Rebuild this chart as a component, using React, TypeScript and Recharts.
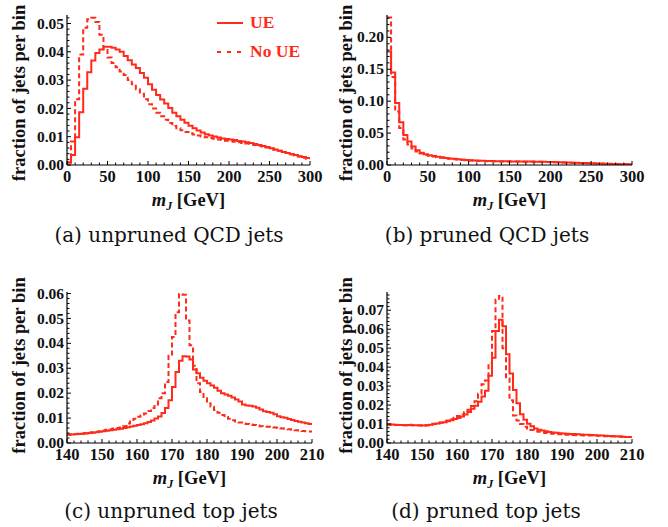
import React from "react";
import { LineChart, Line, XAxis, YAxis, Legend } from "recharts";

const RED = "#ff2a1a";
const SERIF = "'Liberation Serif', 'Times New Roman', serif";

// bin edges (lower edges plus the final upper edge)
const qcdEdges = [
  0, 5, 10, 15, 20, 25, 30, 35, 40, 45, 50, 55, 60, 65, 70, 75, 80, 85, 90, 95,
  100, 105, 110, 115, 120, 125, 130, 135, 140, 145, 150, 155, 160, 165, 170, 175, 180, 185, 190, 195,
  200, 205, 210, 215, 220, 225, 230, 235, 240, 245, 250, 255, 260, 265, 270, 275, 280, 285, 290, 295,
  300,
];
const topEdges = [
  140, 141, 142, 143, 144, 145, 146, 147, 148, 149, 150, 151, 152, 153, 154, 155, 156, 157, 158, 159,
  160, 161, 162, 163, 164, 165, 166, 167, 168, 169, 170, 171, 172, 173, 174, 175, 176, 177, 178, 179,
  180, 181, 182, 183, 184, 185, 186, 187, 188, 189, 190, 191, 192, 193, 194, 195, 196, 197, 198, 199,
  200, 201, 202, 203, 204, 205, 206, 207, 208, 209, 210,
];

// (a) unpruned QCD jets
const qcdUnprunedUE = [
  0.0008, 0.0035, 0.0098, 0.0186, 0.0269, 0.0328, 0.0369, 0.0396, 0.0408, 0.0418,
  0.0418, 0.0414, 0.0408, 0.04, 0.0385, 0.037, 0.0355, 0.0343, 0.0325, 0.0308,
  0.0285, 0.0266, 0.0247, 0.0231, 0.0217, 0.0201, 0.0185, 0.0172, 0.016, 0.0149,
  0.0139, 0.013, 0.0122, 0.0115, 0.0109, 0.0104, 0.0101, 0.0097, 0.0094, 0.0092,
  0.009, 0.0088, 0.0085, 0.0083, 0.008, 0.0078, 0.0074, 0.0071, 0.0067, 0.0064,
  0.0059, 0.0055, 0.005, 0.0046, 0.0042, 0.0038, 0.0035, 0.0031, 0.0028, 0.0025,
];
const qcdUnprunedNoUE = [
  0.001, 0.0083, 0.0232, 0.039, 0.0485, 0.0515, 0.052, 0.0505, 0.046, 0.041,
  0.038, 0.036, 0.0345, 0.033, 0.0318, 0.03, 0.0285, 0.0268, 0.0252, 0.0232,
  0.0215, 0.02, 0.0185, 0.0172, 0.016, 0.0148, 0.0138, 0.013, 0.0123, 0.0117,
  0.0112, 0.0108, 0.0104, 0.0101, 0.0098, 0.0095, 0.0093, 0.009, 0.0088, 0.0086,
  0.0084, 0.0082, 0.008, 0.0078, 0.0076, 0.0074, 0.0071, 0.0068, 0.0065, 0.0062,
  0.0058, 0.0054, 0.005, 0.0046, 0.0042, 0.0038, 0.0034, 0.003, 0.0026, 0.0022,
];

// (b) pruned QCD jets
const qcdPrunedUE = [
  0.178, 0.145, 0.097, 0.067, 0.047, 0.037, 0.029, 0.023, 0.019, 0.0168,
  0.0152, 0.014, 0.013, 0.012, 0.0111, 0.0103, 0.0096, 0.009, 0.0084, 0.0079,
  0.0075, 0.0071, 0.0068, 0.0065, 0.0063, 0.0061, 0.006, 0.0059, 0.0058, 0.0057,
  0.0056, 0.0056, 0.0055, 0.0055, 0.0054, 0.0053, 0.0052, 0.0051, 0.005, 0.0048,
  0.0046, 0.0044, 0.0042, 0.004, 0.0038, 0.0036, 0.0034, 0.0032, 0.003, 0.0028,
  0.0026, 0.0024, 0.0022, 0.002, 0.0018, 0.0016, 0.0015, 0.0013, 0.0012, 0.0011,
];
const qcdPrunedNoUE = [
  0.231, 0.138, 0.084, 0.058, 0.04, 0.032, 0.026, 0.021, 0.018, 0.0158,
  0.0143, 0.0132, 0.0122, 0.0113, 0.0105, 0.0098, 0.0092, 0.0086, 0.0081, 0.0076,
  0.0072, 0.0068, 0.0065, 0.0062, 0.006, 0.0058, 0.0057, 0.0056, 0.0055, 0.0054,
  0.0054, 0.0053, 0.0053, 0.0052, 0.0052, 0.0051, 0.005, 0.0049, 0.0048, 0.0046,
  0.0044, 0.0042, 0.004, 0.0038, 0.0036, 0.0034, 0.0032, 0.003, 0.0028, 0.0026,
  0.0024, 0.0022, 0.002, 0.0018, 0.0016, 0.0015, 0.0013, 0.0012, 0.0011, 0.001,
];

// (c) unpruned top jets
const topUnprunedUE = [
  0.0033, 0.0034, 0.0035, 0.0036, 0.0037, 0.0038, 0.004, 0.0041, 0.0043, 0.0045,
  0.0047, 0.0049, 0.0051, 0.0053, 0.0055, 0.0057, 0.006, 0.0063, 0.0066, 0.0069,
  0.0072, 0.0075, 0.0079, 0.0084, 0.009, 0.0098, 0.0106, 0.012, 0.014, 0.0172,
  0.0225, 0.0285, 0.033, 0.0348, 0.0347, 0.0335, 0.0295, 0.028, 0.0262, 0.025,
  0.024, 0.0231, 0.0222, 0.021, 0.02, 0.0195, 0.019, 0.0183, 0.0175, 0.0167,
  0.0155, 0.0151, 0.0149, 0.0146, 0.0141, 0.0134, 0.0127, 0.0124, 0.0121, 0.0115,
  0.0107, 0.0103, 0.0101, 0.0096, 0.0092, 0.0088, 0.0085, 0.0082, 0.0079, 0.0076,
];
const topUnprunedNoUE = [
  0.0034, 0.0035, 0.0036, 0.0037, 0.0038, 0.004, 0.0042, 0.0043, 0.0045, 0.0047,
  0.005, 0.0053, 0.0055, 0.0058, 0.006, 0.0062, 0.0067, 0.0078, 0.0086, 0.0097,
  0.0105, 0.011, 0.0118, 0.0128, 0.014, 0.0155, 0.018, 0.02, 0.0245, 0.035,
  0.0425, 0.0525, 0.0598, 0.0595, 0.0492, 0.0392, 0.031, 0.024, 0.0205, 0.018,
  0.016, 0.0145, 0.0132, 0.0121, 0.0112, 0.0104, 0.0097, 0.0091, 0.0086, 0.0082,
  0.0078, 0.0076, 0.0074, 0.0072, 0.007, 0.0067, 0.0066, 0.0065, 0.0064, 0.0062,
  0.006, 0.0058, 0.0057, 0.0055, 0.0053, 0.0051, 0.005, 0.0048, 0.0047, 0.0046,
];

// (d) pruned top jets
const topPrunedUE = [
  0.0098, 0.0097, 0.0096, 0.0095, 0.0095, 0.0094, 0.0095, 0.0094, 0.0093, 0.0093,
  0.0092, 0.0093, 0.0096, 0.01, 0.0103, 0.0107, 0.011, 0.0115, 0.012, 0.0126,
  0.0132, 0.014, 0.015, 0.0163, 0.018, 0.0197, 0.0218, 0.0245, 0.0275, 0.0355,
  0.045, 0.059, 0.065, 0.0615, 0.0468, 0.0366, 0.028, 0.021, 0.0152, 0.0123,
  0.0102, 0.0088, 0.0077, 0.007, 0.0066, 0.0062, 0.0058, 0.0056, 0.0054, 0.0052,
  0.005, 0.0049, 0.0048, 0.0047, 0.0046, 0.0045, 0.0044, 0.0043, 0.0042, 0.0041,
  0.004, 0.0039, 0.0038, 0.0037, 0.0036, 0.0035, 0.0034, 0.0033, 0.0032, 0.0031,
];
const topPrunedNoUE = [
  0.0097, 0.0096, 0.0095, 0.0095, 0.0094, 0.0094, 0.0096, 0.0093, 0.0092, 0.0092,
  0.0091, 0.0094, 0.0097, 0.0101, 0.0104, 0.0108, 0.0113, 0.0119, 0.0125, 0.0133,
  0.0142, 0.015, 0.0162, 0.0175, 0.0195, 0.022, 0.026, 0.031, 0.033, 0.042,
  0.059, 0.0755, 0.0775, 0.05, 0.034, 0.0225, 0.0145, 0.0118, 0.01, 0.0086,
  0.0077, 0.0068, 0.0063, 0.0059, 0.0056, 0.0053, 0.0051, 0.0049, 0.0047, 0.0046,
  0.0045, 0.0044, 0.0043, 0.0042, 0.0041, 0.0041, 0.004, 0.004, 0.0039, 0.0039,
  0.0038, 0.0037, 0.0036, 0.0036, 0.0035, 0.0034, 0.0034, 0.0033, 0.0032, 0.0031,
];

// axis ticks: labelled (major) and unlabelled (minor)
const qcdMassMajor = [0, 50, 100, 150, 200, 250, 300];
const topMassMajor = [140, 150, 160, 170, 180, 190, 200, 210];
const qcdUnprunedYMajor = [0, 0.01, 0.02, 0.03, 0.04, 0.05];
const qcdPrunedYMajor = [0, 0.05, 0.1, 0.15, 0.2];
const topUnprunedYMajor = [0, 0.01, 0.02, 0.03, 0.04, 0.05, 0.06];
const topPrunedYMajor = [0, 0.01, 0.02, 0.03, 0.04, 0.05, 0.06, 0.07];

const minorTicks = (lo: number, hi: number, step: number) => {
  const out: number[] = [];
  for (let v = lo; v <= hi + 1e-9; v += step) out.push(+v.toFixed(6));
  return out;
};

const buildRows = (edges: number[], ue: number[], noUe: number[]) =>
  edges.map((m, i) => ({
    m,
    ue: ue[Math.min(i, ue.length - 1)],
    noUe: noUe[Math.min(i, noUe.length - 1)],
  }));

const isMajor = (major: number[], v: number) => major.some((t) => Math.abs(t - v) < 1e-9);

const XTick = (props: any) => {
  const { x, y, payload, major } = props;
  const big = isMajor(major, payload.value);
  return (
    <g>
      <line x1={x} y1={y} x2={x} y2={y - (big ? 4 : 2.5)} stroke="#000" strokeWidth={1} />
      {big && (
        <text x={x} y={y + 16.5} textAnchor="middle" fontFamily={SERIF} fontWeight="bold" fontSize={16.5} fill="#111">
          {payload.value}
        </text>
      )}
    </g>
  );
};

const YTick = (props: any) => {
  const { x, y, payload, major } = props;
  const big = isMajor(major, payload.value);
  return (
    <g>
      <line x1={x} y1={y} x2={x + (big ? 4 : 2.5)} y2={y} stroke="#000" strokeWidth={1} />
      {big && (
        <text x={x - 3} y={y} dy="0.33em" textAnchor="end" fontFamily={SERIF} fontWeight="bold" fontSize={15.5} fill="#111">
          {payload.value.toFixed(2)}
        </text>
      )}
    </g>
  );
};

const makeYTitle = (dx: number, shift: number) => (p: any) => {
  const vb = p.viewBox;
  const cx = vb.x + dx;
  const cy = vb.y + vb.height / 2 + shift;
  return (
    <text x={cx} y={cy} transform={`rotate(-90 ${cx} ${cy})`} textAnchor="middle" dy="0.33em"
      fontFamily={SERIF} fontWeight="bold" fontSize={18.5} fill="#111">
      fraction of jets per bin
    </text>
  );
};

const xTitle = (p: any) => {
  const vb = p.viewBox;
  return (
    <text x={vb.x + vb.width / 2} y={vb.y + 41} textAnchor="middle" fontFamily={SERIF} fontWeight="bold" fontSize={18.5} fill="#111">
      <tspan fontStyle="italic">m</tspan>
      <tspan fontStyle="italic" fontSize={12} dy={4}>J</tspan>
      <tspan dy={-4}> [GeV]</tspan>
    </text>
  );
};

const legendOrder = ["UE", "No UE"];

const legendContent = (props: any) => {
  const items = [...props.payload].sort(
    (a: any, b: any) => legendOrder.indexOf(a.value) - legendOrder.indexOf(b.value)
  );
  return (
    <div style={{ fontFamily: SERIF, fontWeight: "bold", fontSize: 17.5, color: RED }}>
      {items.map((entry: any) => (
        <div key={entry.value} style={{ display: "flex", alignItems: "center", height: 29 }}>
          <svg width={33} height={10}>
            <line x1={0} y1={5} x2={26} y2={5} stroke={RED} strokeWidth={2}
              strokeDasharray={entry.value === "No UE" ? "4 6" : undefined} />
          </svg>
          <span>{entry.value}</span>
        </div>
      ))}
    </div>
  );
};

type PanelProps = {
  left: number;
  top: number;
  width: number;
  height: number;
  marginTop: number;
  yAxisWidth: number;
  titleX: number;
  titleShift: number;
  rows: { m: number; ue: number; noUe: number }[];
  xDomain: [number, number];
  yDomain: [number, number];
  xMajor: number[];
  xMinorStep: number;
  yMajor: number[];
  yMinorStep: number;
  legend?: boolean;
};

const Panel = (p: PanelProps) => (
  <div style={{ position: "absolute", left: p.left, top: p.top }}>
    <LineChart width={p.width} height={p.height} data={p.rows}
      margin={{ top: p.marginTop, right: 20, bottom: 0, left: 0 }}>
      <XAxis dataKey="m" type="number" domain={p.xDomain} allowDataOverflow
        ticks={minorTicks(p.xDomain[0], p.xDomain[1], p.xMinorStep)} interval={0}
        tickLine={false} tickSize={0} tickMargin={0} height={50}
        axisLine={{ stroke: "#000", strokeWidth: 1.2 }}
        tick={<XTick major={p.xMajor} />} label={xTitle} />
      <YAxis type="number" domain={p.yDomain} allowDataOverflow
        ticks={minorTicks(0, p.yDomain[1], p.yMinorStep)} interval={0}
        tickLine={false} tickSize={0} tickMargin={0} width={p.yAxisWidth}
        axisLine={{ stroke: "#000", strokeWidth: 1.2 }}
        tick={<YTick major={p.yMajor} />} label={makeYTitle(p.titleX, p.titleShift)} />
      {p.legend && (
        <Legend layout="vertical" align="center" verticalAlign="middle"
          wrapperStyle={{ left: 217, top: 8, width: 100 }} content={legendContent} />
      )}
      <Line name="No UE" type="stepAfter" dataKey="noUe" stroke={RED} strokeWidth={2}
        strokeDasharray="5 3" dot={false} isAnimationActive={false} />
      <Line name="UE" type="stepAfter" dataKey="ue" stroke={RED} strokeWidth={2}
        dot={false} isAnimationActive={false} />
    </LineChart>
  </div>
);

const Caption = ({ x, y, text }: { x: number; y: number; text: string }) => (
  <div style={{
    position: "absolute", left: x - 150, top: y - 14, width: 300, textAlign: "center",
    fontFamily: "'DejaVu Serif', serif", fontSize: 20, lineHeight: "28px", color: "#111",
  }}>
    {text}
  </div>
);

export default function App() {
  return (
    <div style={{ position: "absolute", left: 0, top: 0, width: 668, height: 527, background: "#fff", overflow: "hidden" }}>
      <Panel left={0} top={0} width={330} height={215} marginTop={15} yAxisWidth={67} titleX={19} titleShift={3}
        rows={buildRows(qcdEdges, qcdUnprunedUE, qcdUnprunedNoUE)}
        xDomain={[0, 300]} yDomain={[0, 0.053]} xMajor={qcdMassMajor} xMinorStep={10}
        yMajor={qcdUnprunedYMajor} yMinorStep={0.002} legend />
      <Panel left={330} top={0} width={322} height={215} marginTop={15} yAxisWidth={57} titleX={16} titleShift={3}
        rows={buildRows(qcdEdges, qcdPrunedUE, qcdPrunedNoUE)}
        xDomain={[0, 300]} yDomain={[0, 0.235]} xMajor={qcdMassMajor} xMinorStep={10}
        yMajor={qcdPrunedYMajor} yMinorStep={0.01} />
      <Panel left={0} top={270} width={332} height={223} marginTop={22} yAxisWidth={67} titleX={19} titleShift={-2}
        rows={buildRows(topEdges, topUnprunedUE, topUnprunedNoUE)}
        xDomain={[140, 210]} yDomain={[0, 0.0606]} xMajor={topMassMajor} xMinorStep={2}
        yMajor={topUnprunedYMajor} yMinorStep={0.002} />
      <Panel left={330} top={270} width={322} height={223} marginTop={22} yAxisWidth={57} titleX={16} titleShift={-2}
        rows={buildRows(topEdges, topPrunedUE, topPrunedNoUE)}
        xDomain={[140, 210]} yDomain={[0, 0.0796]} xMajor={topMassMajor} xMinorStep={2}
        yMajor={topPrunedYMajor} yMinorStep={0.002} />
      <Caption x={169} y={235} text="(a) unpruned QCD jets" />
      <Caption x={487} y={235} text="(b) pruned QCD jets" />
      <Caption x={171} y={511} text="(c) unpruned top jets" />
      <Caption x={486} y={511} text="(d) pruned top jets" />
    </div>
  );
}
